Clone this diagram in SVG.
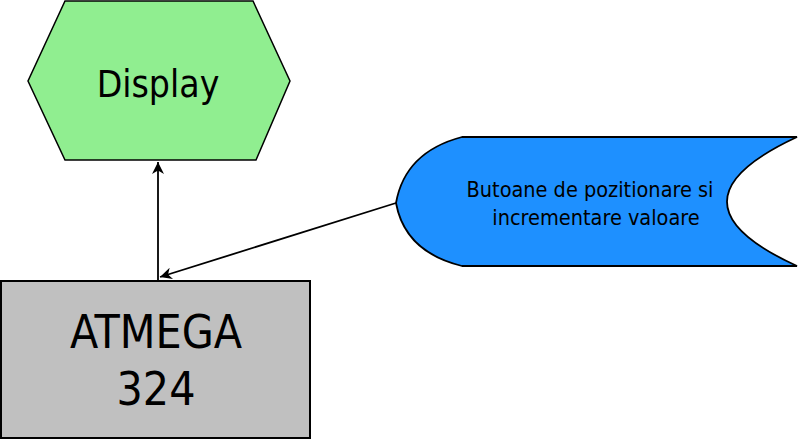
<svg xmlns="http://www.w3.org/2000/svg" width="799" height="442" viewBox="0 0 799 442">
<style>
.t{font-family:"DejaVu Sans Condensed","DejaVu Sans",sans-serif;fill:#000;text-anchor:middle}
.e{stroke:#000;stroke-width:1.8;fill:none}
</style>
<defs>
<marker id="ah" viewBox="0 0 10 10" refX="10" refY="5" markerWidth="12" markerHeight="12" markerUnits="userSpaceOnUse" orient="auto">
<path d="M0,0 L10,5 L0,10 L3,5 Z" fill="#000"/>
</marker>
</defs>
<rect width="799" height="442" fill="#fff"/>
<g id="display">
<polygon points="65,1 253,1 290,81 256,160 65,160 28,81" fill="#90ee90" stroke="#000" stroke-width="1.5"/>
<text class="t" x="158" y="97" font-size="37">Display</text>
</g>
<g id="atmega">
<rect x="1" y="281" width="309" height="157" fill="#c0c0c0" stroke="#000" stroke-width="2"/>
<text class="t" x="156" y="348" font-size="46">ATMEGA</text>
<text class="t" x="156" y="405" font-size="46">324</text>
</g>
<g id="butoane">
<path d="M462,137 L797,137 Q657,202 797,266 L462,266 Q405,252 396,203 Q405,152 462,137 Z" fill="#1e90ff" stroke="#000" stroke-width="1.8"/>
<text class="t" x="590" y="197" font-size="21.5">Butoane de pozitionare si</text>
<text class="t" x="596" y="225" font-size="21.5">incrementare valoare</text>
</g>
<g id="connectors">
<line class="e" x1="396" y1="203" x2="160" y2="277" marker-end="url(#ah)"/>
<line class="e" x1="158" y1="280" x2="158" y2="162" marker-end="url(#ah)"/>
</g>
</svg>
